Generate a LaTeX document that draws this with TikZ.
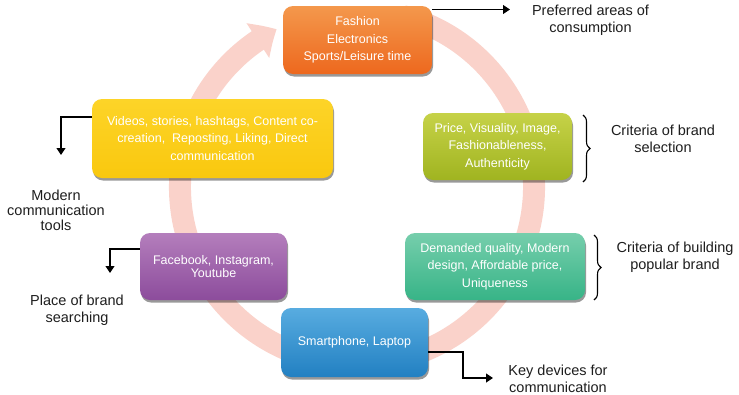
\documentclass[tikz,border=0pt]{standalone}
\usepackage{fontspec}
\setmainfont{Liberation Sans}
\usetikzlibrary{arrows.meta,shadows,calc,decorations.pathreplacing,bending}
\definecolor{ringc}{RGB}{250,210,202}
\definecolor{labc}{RGB}{30,30,30}
\definecolor{orT}{RGB}{244,152,76}\definecolor{orB}{RGB}{237,104,30}
\definecolor{yeT}{RGB}{253,212,40}\definecolor{yeB}{RGB}{249,200,14}
\definecolor{liT}{RGB}{198,210,72}\definecolor{liB}{RGB}{160,180,32}
\definecolor{teT}{RGB}{118,206,172}\definecolor{teB}{RGB}{55,180,135}
\definecolor{puT}{RGB}{180,126,188}\definecolor{puB}{RGB}{140,76,156}
\definecolor{blT}{RGB}{88,172,224}\definecolor{blB}{RGB}{34,128,194}
\begin{document}
\begin{tikzpicture}[x=1pt,y=-1pt,
  ring/.style={draw=ringc,line width=22pt,-{Triangle[length=22pt,width=40pt,bend]}},
  box/.style={rounded corners=10pt,inner sep=0pt,align=center,text=white,
    font=\fontsize{12.5}{17.5}\selectfont,
    drop shadow={shadow xshift=1pt,shadow yshift=-2.5pt,fill=black,opacity=0.4}},
  lab/.style={align=center,text=labc,font=\fontsize{14.5}{16.7}\selectfont,inner sep=0pt},
  conn/.style={draw=black,line width=1.2pt,-{Triangle[length=7pt,width=9pt]}},
  brc/.style={draw=black,line width=1.1pt,decorate,decoration={brace,amplitude=7pt}}]
\useasboundingbox (0,0) rectangle (739,394);
\fill[white] (0,0) rectangle (739,394);
% ring
\coordinate (c) at (357,187);
\draw[ring] ($(c)+(-75:177)$) arc[start angle=-75,end angle=243,radius=177];
% boxes
\node[box,top color=orT,bottom color=orB,minimum width=149pt,minimum height=68pt] (orange) at (357.5,40)
  {Fashion\\Electronics\\Sports/Leisure time};
\node[box,top color=yeT,bottom color=yeB,minimum width=241pt,minimum height=79pt] (yellow) at (212.5,138.5)
  {Videos, stories, hashtags, Content co-\\creation,\ \ Reposting, Liking, Direct\\communication};
\node[box,top color=liT,bottom color=liB,minimum width=149pt,minimum height=67pt] (lime) at (497.5,146.5)
  {Price, Visuality, Image,\\Fashionableness,\\Authenticity};
\node[box,top color=teT,bottom color=teB,minimum width=180pt,minimum height=67pt] (teal) at (495,266.5)
  {Demanded quality, Modern\\design, Affordable price,\\Uniqueness};
\node[box,top color=puT,bottom color=puB,minimum width=147pt,minimum height=67pt,
  font=\fontsize{12.5}{13}\selectfont] (purple) at (213.5,266.5)
  {Facebook, Instagram,\\Youtube};
\node[box,top color=blT,bottom color=blB,minimum width=147pt,minimum height=69pt] (blue) at (354.5,342.5)
  {Smartphone, Laptop};
% labels
\node[lab] (pref) at (590.5,20.5) {Preferred areas of\\consumption};
\node[lab] (crit1) at (663,138.5) {Criteria of brand\\selection};
\node[lab] (crit2) at (675,257.5) {Criteria of building\\popular brand};
\node[lab] (key) at (558,378.5) {Key devices for\\communication};
\node[lab] (place) at (77,310.5) {Place of brand\\searching};
\node[lab,font=\fontsize{14.5}{15}\selectfont] (modern) at (56,210) {Modern\\communication\\tools};
% connectors
\coordinate (prefA) at (510,9.5);
\draw[conn] ($(orange.east)+(0,-30.5)$) -- (prefA);
\coordinate (modA) at (61,155);
\draw[conn] ($(yellow.west)+(0,-21.5)$) -| (modA);
\coordinate (plA) at (110,273);
\draw[conn] ($(purple.west)+(0,-17.5)$) -| (plA);
\coordinate (kdA) at (493,378);
\coordinate (kdB) at (463,378);
\draw[conn] ($(blue.east)+(0,9.5)$) -| (kdB) -- (kdA);
% braces
\coordinate (b1t) at (583,115); \coordinate (b1b) at (583,182);
\draw[brc] (b1t) -- (b1b);
\coordinate (b2t) at (594,235); \coordinate (b2b) at (594,300);
\draw[brc] (b2t) -- (b2b);
\end{tikzpicture}
\end{document}
